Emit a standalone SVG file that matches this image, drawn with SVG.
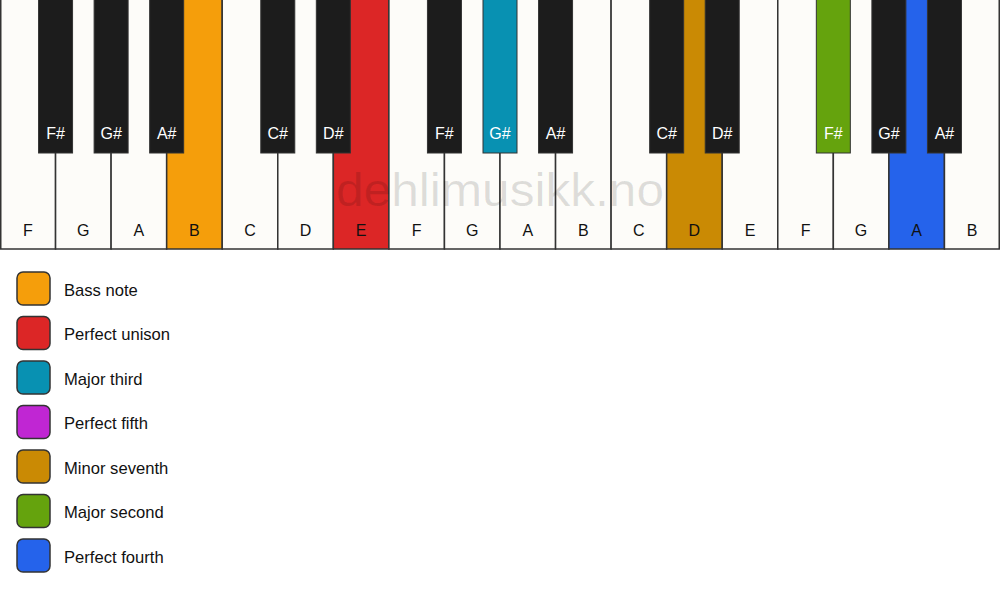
<svg xmlns="http://www.w3.org/2000/svg" width="1000" height="594" viewBox="0 0 1000 594">
<style>
.w{fill:#FDFCF9;stroke:#333;stroke-width:1.5}
.b{fill:#1C1C1C;stroke:#333;stroke-width:1}
.wl{font-family:"Liberation Sans",Arial,sans-serif;font-size:16px;fill:#111;text-anchor:middle}
.bl{font-family:"Liberation Sans",Arial,sans-serif;font-size:16px;fill:#fff;text-anchor:middle}
.sw{stroke:#333;stroke-width:1.5}
.lt{font-family:"Liberation Sans",Arial,sans-serif;font-size:16.6px;fill:#111}
</style>
<rect width="1000" height="594" fill="#fff"/>
<g id="white-keys">
<g id="wk-F1"><rect class="w" x="0.75" y="-1" width="54.8" height="250"/><text class="wl" x="27.8" y="236">F</text></g>
<g id="wk-G1"><rect class="w" x="55.56" y="-1" width="55.56" height="250"/><text class="wl" x="83.3" y="236">G</text></g>
<g id="wk-A1"><rect class="w" x="111.11" y="-1" width="55.56" height="250"/><text class="wl" x="138.9" y="236">A</text></g>
<g id="wk-B1"><rect class="w" x="166.67" y="-1" width="55.56" height="250" style="fill:#F59E0B"/><text class="wl" x="194.4" y="236">B</text></g>
<g id="wk-C1"><rect class="w" x="222.22" y="-1" width="55.56" height="250"/><text class="wl" x="250" y="236">C</text></g>
<g id="wk-D1"><rect class="w" x="277.78" y="-1" width="55.56" height="250"/><text class="wl" x="305.6" y="236">D</text></g>
<g id="wk-E1"><rect class="w" x="333.33" y="-1" width="55.56" height="250" style="fill:#DC2626"/><text class="wl" x="361.1" y="236">E</text></g>
<g id="wk-F2"><rect class="w" x="388.89" y="-1" width="55.56" height="250"/><text class="wl" x="416.7" y="236">F</text></g>
<g id="wk-G2"><rect class="w" x="444.44" y="-1" width="55.56" height="250"/><text class="wl" x="472.2" y="236">G</text></g>
<g id="wk-A2"><rect class="w" x="500" y="-1" width="55.56" height="250"/><text class="wl" x="527.8" y="236">A</text></g>
<g id="wk-B2"><rect class="w" x="555.56" y="-1" width="55.56" height="250"/><text class="wl" x="583.3" y="236">B</text></g>
<g id="wk-C2"><rect class="w" x="611.11" y="-1" width="55.56" height="250"/><text class="wl" x="638.9" y="236">C</text></g>
<g id="wk-D2"><rect class="w" x="666.67" y="-1" width="55.56" height="250" style="fill:#CA8A04"/><text class="wl" x="694.4" y="236">D</text></g>
<g id="wk-E2"><rect class="w" x="722.22" y="-1" width="55.56" height="250"/><text class="wl" x="750" y="236">E</text></g>
<g id="wk-F3"><rect class="w" x="777.78" y="-1" width="55.56" height="250"/><text class="wl" x="805.6" y="236">F</text></g>
<g id="wk-G3"><rect class="w" x="833.33" y="-1" width="55.56" height="250"/><text class="wl" x="861.1" y="236">G</text></g>
<g id="wk-A3"><rect class="w" x="888.89" y="-1" width="55.56" height="250" style="fill:#2563EB"/><text class="wl" x="916.7" y="236">A</text></g>
<g id="wk-B3"><rect class="w" x="944.44" y="-1" width="54.8" height="250"/><text class="wl" x="972.2" y="236">B</text></g>
</g>
<g id="black-keys">
<g id="bk-Fs1"><rect class="b" x="38.56" y="-1" width="34" height="154"/><text class="bl" x="55.56" y="139">F#</text></g>
<g id="bk-Gs1"><rect class="b" x="94.11" y="-1" width="34" height="154"/><text class="bl" x="111.11" y="139">G#</text></g>
<g id="bk-As1"><rect class="b" x="149.67" y="-1" width="34" height="154"/><text class="bl" x="166.67" y="139">A#</text></g>
<g id="bk-Cs1"><rect class="b" x="260.78" y="-1" width="34" height="154"/><text class="bl" x="277.78" y="139">C#</text></g>
<g id="bk-Ds1"><rect class="b" x="316.33" y="-1" width="34" height="154"/><text class="bl" x="333.33" y="139">D#</text></g>
<g id="bk-Fs2"><rect class="b" x="427.44" y="-1" width="34" height="154"/><text class="bl" x="444.44" y="139">F#</text></g>
<g id="bk-Gs2"><rect class="b" x="483" y="-1" width="34" height="154" style="fill:#0891B2"/><text class="bl" x="500" y="139">G#</text></g>
<g id="bk-As2"><rect class="b" x="538.56" y="-1" width="34" height="154"/><text class="bl" x="555.56" y="139">A#</text></g>
<g id="bk-Cs2"><rect class="b" x="649.67" y="-1" width="34" height="154"/><text class="bl" x="666.67" y="139">C#</text></g>
<g id="bk-Ds2"><rect class="b" x="705.22" y="-1" width="34" height="154"/><text class="bl" x="722.22" y="139">D#</text></g>
<g id="bk-Fs3"><rect class="b" x="816.33" y="-1" width="34" height="154" style="fill:#65A30D"/><text class="bl" x="833.33" y="139">F#</text></g>
<g id="bk-Gs3"><rect class="b" x="871.89" y="-1" width="34" height="154"/><text class="bl" x="888.89" y="139">G#</text></g>
<g id="bk-As3"><rect class="b" x="927.44" y="-1" width="34" height="154"/><text class="bl" x="944.44" y="139">A#</text></g>
</g>
<text id="watermark" x="500" y="206" text-anchor="middle" font-family="'Liberation Sans',Arial,sans-serif" font-size="46" fill="#000" fill-opacity="0.12" textLength="328" lengthAdjust="spacingAndGlyphs">dehlimusikk.no</text>
<g id="legend">
<g id="lg-bass"><rect class="sw" x="17" y="272" width="33" height="33" rx="6" fill="#F59E0B"/><text class="lt" x="64" y="295.5">Bass note</text></g>
<g id="lg-unison"><rect class="sw" x="17" y="316.5" width="33" height="33" rx="6" fill="#DC2626"/><text class="lt" x="64" y="340">Perfect unison</text></g>
<g id="lg-third"><rect class="sw" x="17" y="361" width="33" height="33" rx="6" fill="#0891B2"/><text class="lt" x="64" y="384.5">Major third</text></g>
<g id="lg-fifth"><rect class="sw" x="17" y="405.5" width="33" height="33" rx="6" fill="#C026D3"/><text class="lt" x="64" y="429">Perfect fifth</text></g>
<g id="lg-seventh"><rect class="sw" x="17" y="450" width="33" height="33" rx="6" fill="#CA8A04"/><text class="lt" x="64" y="473.5">Minor seventh</text></g>
<g id="lg-second"><rect class="sw" x="17" y="494.5" width="33" height="33" rx="6" fill="#65A30D"/><text class="lt" x="64" y="518">Major second</text></g>
<g id="lg-fourth"><rect class="sw" x="17" y="539" width="33" height="33" rx="6" fill="#2563EB"/><text class="lt" x="64" y="562.5">Perfect fourth</text></g>
</g>
</svg>
